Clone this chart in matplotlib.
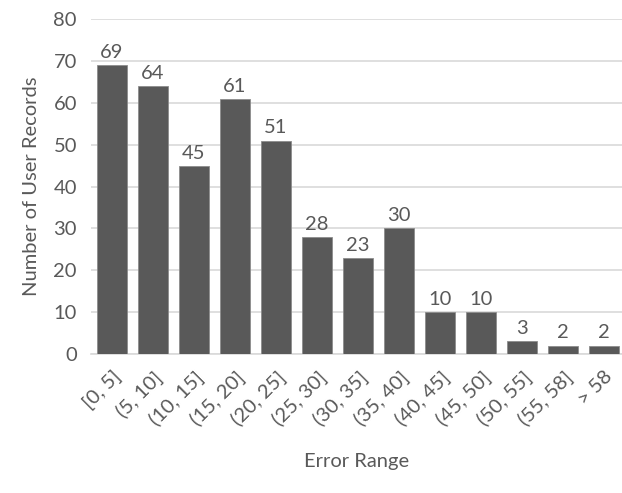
import matplotlib.pyplot as plt
import numpy as np

categories = ['[0, 5]', '(5, 10]', '(10, 15]', '(15, 20]', '(20, 25]', '(25, 30]',
              '(30, 35]', '(35, 40]', '(40, 45]', '(45, 50]', '(50, 55]', '(55, 58]', '> 58']
counts = [69, 64, 45, 61, 51, 28, 23, 30, 10, 10, 3, 2, 2]

plt.rcParams['font.family'] = ['Lato', 'DejaVu Sans']
txt = '#595959'
fs = 14.5

fig = plt.figure(figsize=(6.22, 4.93), dpi=100)
ax = fig.add_axes([0.146, 0.282, 0.854, 0.679])

x = np.arange(len(categories))
ax.bar(x, counts, width=0.74, color='#595959', edgecolor='#8c8c8c', linewidth=0.6, zorder=3)
for xi, v in zip(x, counts):
    ax.annotate(str(v), (xi, v), xytext=(0, 3), textcoords='offset points',
                ha='center', va='bottom', fontsize=fs, color=txt)

ax.set_ylim(0, 80)
ax.set_xlim(-0.51, len(categories) - 0.56)
ax.set_yticks(range(0, 81, 10))
ax.yaxis.grid(True, color='#d9d9d9', linewidth=1.2, zorder=0)
ax.set_xticks(x)
ax.set_xticklabels(categories, rotation=45, ha='right', rotation_mode='anchor')
ax.tick_params(axis='both', length=0, labelsize=fs, colors=txt)
ax.tick_params(axis='x', pad=10)
ax.tick_params(axis='y', pad=10)
for s in ['top', 'right', 'left']:
    ax.spines[s].set_visible(False)
ax.spines['bottom'].set_color('#d9d9d9')
ax.spines['bottom'].set_linewidth(1.2)

ax.set_ylabel('Number of User Records', fontsize=fs, color=txt, labelpad=10)
fig.text(0.574, 0.063, 'Error Range', ha='center', va='center', fontsize=fs, color=txt)

fig.savefig('out.png', dpi=100)
